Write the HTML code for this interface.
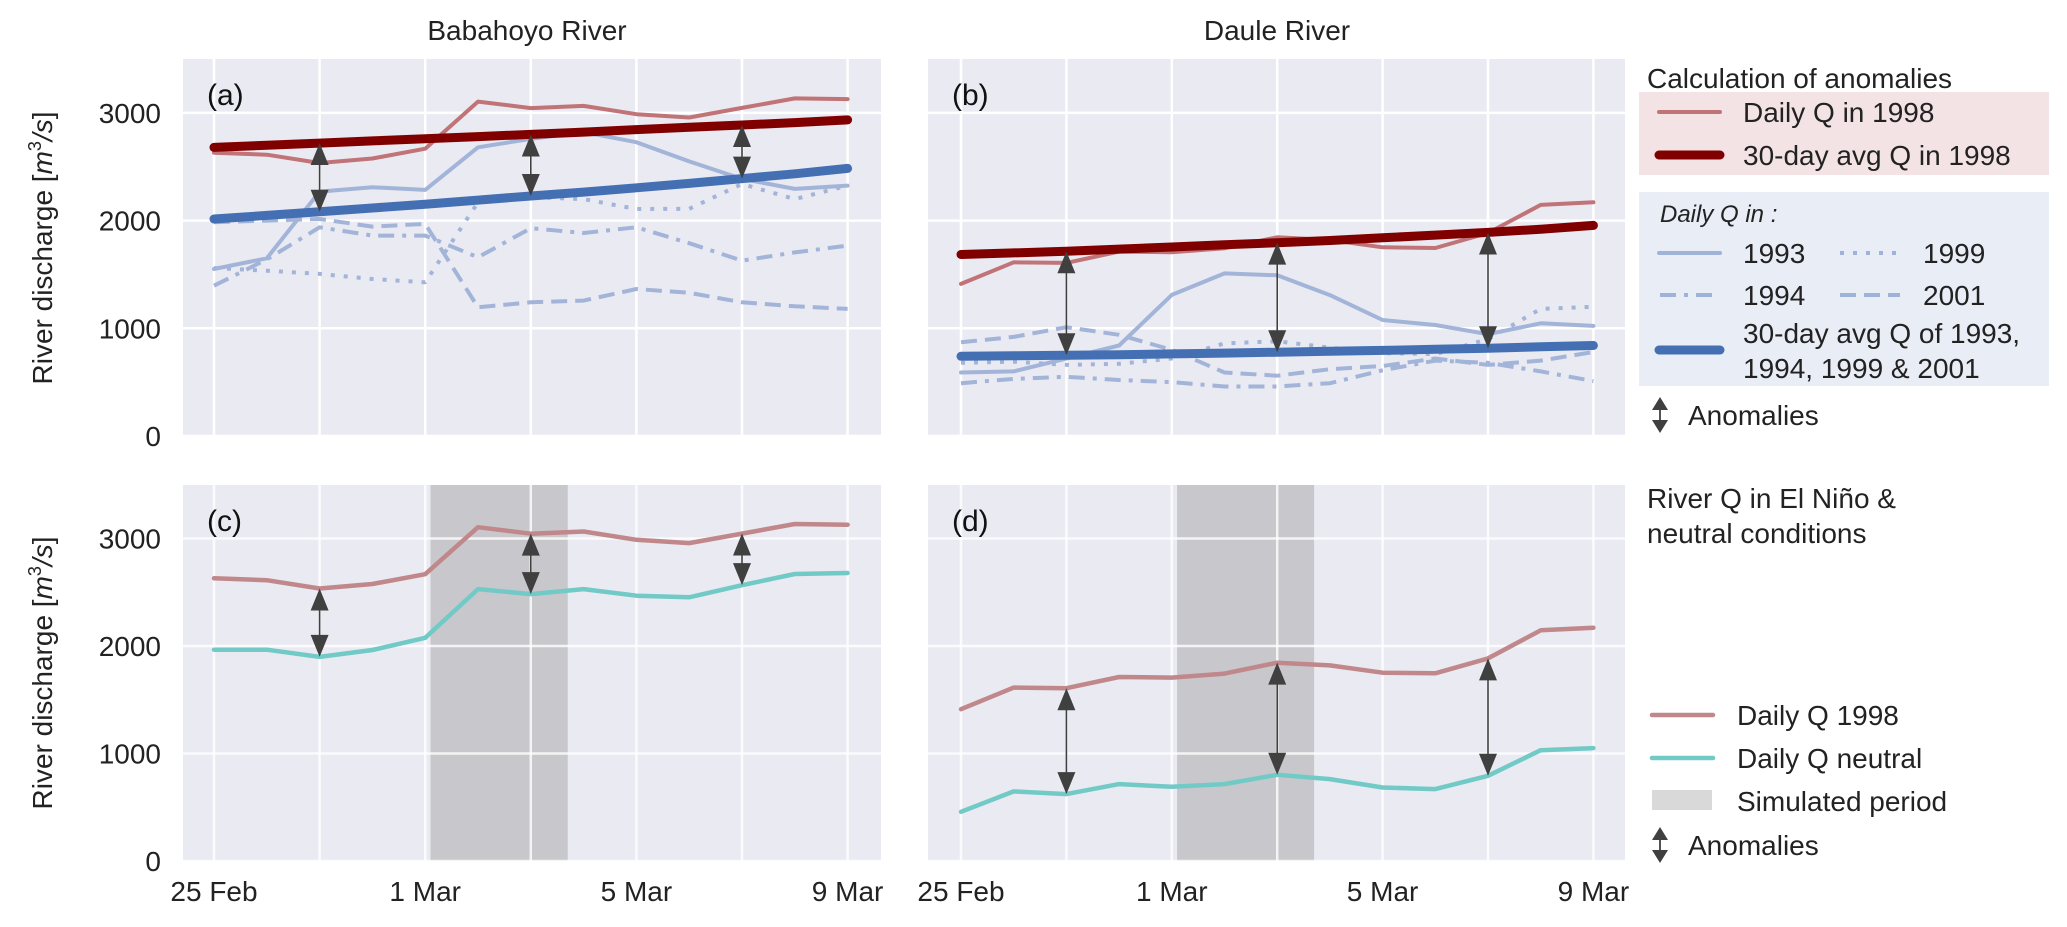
<!DOCTYPE html>
<html><head><meta charset="utf-8"><style>
html,body{margin:0;padding:0;background:#fff}
svg{display:block;font-family:"Liberation Sans",sans-serif}
</style></head><body>
<svg id="c" width="2067" height="927" viewBox="0 0 2067 927" xmlns="http://www.w3.org/2000/svg">
<text x="527" y="40" font-size="28" text-anchor="middle" fill="#222">Babahoyo River</text>
<text x="1277" y="40" font-size="28" text-anchor="middle" fill="#222">Daule River</text>
<text transform="translate(52,248) rotate(-90)" font-size="28" text-anchor="middle" fill="#222">River discharge [<tspan font-style="italic">m</tspan><tspan font-size="18" dy="-11">3</tspan><tspan dy="11" font-style="italic">/s</tspan>]</text>
<text transform="translate(52,673) rotate(-90)" font-size="28" text-anchor="middle" fill="#222">River discharge [<tspan font-style="italic">m</tspan><tspan font-size="18" dy="-11">3</tspan><tspan dy="11" font-style="italic">/s</tspan>]</text>
<g id="panels"></g>
<!-- top legend -->
<g>
<text x="1647" y="88" font-size="28" fill="#222">Calculation of anomalies</text>
<rect x="1639" y="92" width="410" height="83" fill="#f3e3e5"/>
<line x1="1659" y1="112" x2="1720" y2="112" stroke="#c07478" stroke-width="4" stroke-linecap="round"/>
<text x="1743" y="122" font-size="28" fill="#222">Daily Q in 1998</text>
<line x1="1659" y1="155" x2="1720" y2="155" stroke="#800000" stroke-width="9" stroke-linecap="round"/>
<text x="1743" y="165" font-size="28" fill="#222">30-day avg Q in 1998</text>
<rect x="1639" y="192" width="410" height="194" fill="#e9edf5"/>
<text x="1660" y="222" font-size="24" font-style="italic" fill="#222">Daily Q in :</text>
<line x1="1659" y1="253" x2="1720" y2="253" stroke="#9fb2d8" stroke-width="4" stroke-linecap="round"/>
<text x="1743" y="263" font-size="28" fill="#222">1993</text>
<line x1="1840" y1="253" x2="1900" y2="253" stroke="#9fb2d8" stroke-width="4" stroke-dasharray="4,9"/>
<text x="1923" y="263" font-size="28" fill="#222">1999</text>
<line x1="1660" y1="295" x2="1720" y2="295" stroke="#9fb2d8" stroke-width="4" stroke-dasharray="16,8,4,8"/>
<text x="1743" y="305" font-size="28" fill="#222">1994</text>
<line x1="1840" y1="295" x2="1900" y2="295" stroke="#9fb2d8" stroke-width="4" stroke-dasharray="16,8"/>
<text x="1923" y="305" font-size="28" fill="#222">2001</text>
<line x1="1659" y1="350" x2="1720" y2="350" stroke="#4470b3" stroke-width="9" stroke-linecap="round"/>
<text x="1743" y="343" font-size="28" fill="#222">30-day avg Q of 1993,</text>
<text x="1743" y="378" font-size="28" fill="#222">1994, 1999 &amp; 2001</text>
<g><line x1="1660" y1="405" x2="1660" y2="425" stroke="#404040" stroke-width="1.8"/><path d="M1660 397 L1652 410 L1668 410Z M1660 433 L1652 420 L1668 420Z" fill="#404040"/></g>
<text x="1688" y="425" font-size="28" fill="#222">Anomalies</text>
</g>
<!-- bottom legend -->
<g>
<text x="1647" y="508" font-size="28" fill="#222">River Q in El Niño &amp;</text>
<text x="1647" y="543" font-size="28" fill="#222">neutral conditions</text>
<line x1="1652" y1="715" x2="1713" y2="715" stroke="#c0888b" stroke-width="4.5" stroke-linecap="round"/>
<text x="1737" y="725" font-size="28" fill="#222">Daily Q 1998</text>
<line x1="1652" y1="758" x2="1713" y2="758" stroke="#72cac7" stroke-width="4.5" stroke-linecap="round"/>
<text x="1737" y="768" font-size="28" fill="#222">Daily Q neutral</text>
<rect x="1652" y="790" width="60" height="20" fill="#d9d9d9"/>
<text x="1737" y="811" font-size="28" fill="#222">Simulated period</text>
<g><line x1="1660" y1="835" x2="1660" y2="855" stroke="#404040" stroke-width="1.8"/><path d="M1660 827 L1652 840 L1668 840Z M1660 863 L1652 850 L1668 850Z" fill="#404040"/></g>
<text x="1688" y="855" font-size="28" fill="#222">Anomalies</text>
</g>
</svg>
<script>
const days = ["25 Feb","26 Feb","27 Feb","28 Feb","1 Mar","2 Mar","3 Mar","4 Mar","5 Mar","6 Mar","7 Mar","8 Mar","9 Mar"];
const xTickIdx = [0,4,8,12];
const xTickLabels = ["25 Feb","1 Mar","5 Mar","9 Mar"];
const yTicks = [0,1000,2000,3000];
const anomalyDays = [2,6,10];
const simStart = 4.1, simEnd = 6.7;
// Babahoyo
const babDaily1998 = [2630,2612,2535,2577,2668,3105,3045,3065,2988,2957,3046,3135,3128];
const babAvg1998 = [2680,2700,2720,2740,2760,2780,2800,2822,2845,2866,2888,2910,2935];
const babAvgNeutral = [2015,2048,2082,2117,2152,2190,2228,2265,2305,2345,2390,2435,2485];
const bab1993 = [1551,1650,2269,2310,2285,2681,2759,2822,2728,2550,2387,2294,2325];
const bab1994 = [1396,1640,1938,1861,1861,1659,1929,1885,1938,1790,1628,1705,1768];
const bab1999 = [1560,1535,1505,1458,1427,2170,2217,2200,2108,2110,2340,2200,2325];
const bab2001 = [1985,2000,2015,1944,1969,1195,1241,1257,1365,1330,1241,1204,1180];
const babNeutral = [1966,1966,1899,1963,2076,2529,2483,2529,2468,2453,2566,2670,2679];
// Daule
const dauDaily1998 = [1412,1613,1607,1712,1706,1743,1845,1820,1752,1746,1885,2146,2170];
const dauAvg1998 = [1685,1700,1715,1735,1755,1775,1795,1815,1840,1865,1890,1920,1955];
const dauAvgNeutral = [740,745,750,755,762,770,778,786,795,805,815,828,840];
const dau1993 = [590,600,720,840,1310,1510,1492,1308,1077,1031,945,1046,1022];
const dau1994 = [490,530,550,520,500,460,460,490,610,700,680,600,510];
const dau1999 = [680,690,660,670,720,860,880,820,770,760,900,1180,1200];
const dau2001 = [870,920,1010,940,800,590,560,620,650,720,660,700,780];
const dauNeutral = [458,647,622,715,690,715,802,762,684,669,793,1031,1050];

const NS="http://www.w3.org/2000/svg";
const root=document.getElementById('panels');
function mk(tag,attrs,parent){const e=document.createElementNS(NS,tag);for(const k in attrs)e.setAttribute(k,attrs[k]);(parent||root).appendChild(e);return e;}

function panel(cfg){
  const g=mk('g',{});
  
  
  const xs=i=>cfg.x0+i*cfg.dx;
  const ys=v=>cfg.yb-v*cfg.k;
  const bg=mk('rect',{x:cfg.left,y:cfg.top,width:cfg.right-cfg.left,height:cfg.yb-cfg.top,fill:'#eaeaf2'},g);
  
  
  if(cfg.shade){
    const s=mk('rect',{x:xs(simStart),y:cfg.top,width:xs(simEnd)-xs(simStart),height:cfg.yb-cfg.top,fill:'#c8c8cc'},g);
    
    
  }
  yTicks.forEach(v=>{
    const l=mk('line',{x1:cfg.left,x2:cfg.right,y1:ys(v),y2:ys(v),stroke:'#fff','stroke-width':2.5,'stroke-opacity':cfg.shade?0.8:1},g);
    
    
    if(cfg.yLabels){
      const t=mk('text',{x:cfg.left-22,y:ys(v)+10,'font-size':28,'text-anchor':'end',fill:'#222'},g);
      t.textContent=v;
      
      
    }
  });
  for(let i=0;i<days.length;i+=2){
    const l=mk('line',{x1:xs(i),x2:xs(i),y1:cfg.top,y2:cfg.yb,stroke:'#fff','stroke-width':2.5,'stroke-opacity':cfg.shade?0.8:1},g);
    
    
  }
  if(cfg.xLabels){
    xTickIdx.forEach((ix,j)=>{
      const t=mk('text',{x:xs(ix),y:cfg.yb+40,'font-size':28,'text-anchor':'middle',fill:'#222'},g);
      t.textContent=xTickLabels[j];
      
      
    });
  }
  const lab=mk('text',{x:cfg.left+24,y:cfg.top+46,'font-size':30,fill:'#111'},g);
  lab.textContent='('+cfg.id+')';
  
  
  cfg.series.forEach(s=>{
    const d=s.data.map((v,i)=>(i?'L':'M')+xs(i).toFixed(1)+' '+ys(v).toFixed(1)).join(' ');
    const p=mk('path',{d:d,fill:'none',stroke:s.color,'stroke-width':s.w,'stroke-linecap':s.dash?'butt':'round','stroke-linejoin':'round'},g);
    if(s.dash)p.setAttribute('stroke-dasharray',s.dash);
    
    
  });
  anomalyDays.forEach(i=>{
    const x=xs(i),y1=ys(cfg.arrowTop[i]),y2=ys(cfg.arrowBot[i]);
    const a=mk('g',{},g);
    
    
    mk('line',{x1:x,x2:x,y1:y1+20,y2:y2-20,stroke:'#404040','stroke-width':1.6},a);
    mk('path',{d:`M${x} ${y1} L${x-9} ${y1+22} L${x+9} ${y1+22}Z M${x} ${y2} L${x-9} ${y2-22} L${x+9} ${y2-22}Z`,fill:'#404040'},a);
  });
}
const lb='#a3b4d9';
panel({id:'a',left:183,right:881,top:59,yb:436,x0:214,dx:52.8,k:0.1077,yLabels:true,xLabels:false,
 series:[
  {name:'line-1994',data:bab1994,color:lb,w:4,dash:'16,8,4,8'},
  {name:'line-2001',data:bab2001,color:lb,w:4,dash:'16,8'},
  {name:'line-1999',data:bab1999,color:lb,w:4,dash:'4,9'},
  {name:'line-1993',data:bab1993,color:lb,w:4},
  {name:'line-daily-1998',data:babDaily1998,color:'#c07478',w:4},
  {name:'line-avg-neutral',data:babAvgNeutral,color:'#4470b3',w:9},
  {name:'line-avg-1998',data:babAvg1998,color:'#800000',w:9}],
 arrowTop:babAvg1998,arrowBot:babAvgNeutral});
panel({id:'b',left:928,right:1625,top:59,yb:436,x0:961,dx:52.7,k:0.1077,yLabels:false,xLabels:false,
 series:[
  {name:'line-1994',data:dau1994,color:lb,w:4,dash:'16,8,4,8'},
  {name:'line-2001',data:dau2001,color:lb,w:4,dash:'16,8'},
  {name:'line-1999',data:dau1999,color:lb,w:4,dash:'4,9'},
  {name:'line-1993',data:dau1993,color:lb,w:4},
  {name:'line-daily-1998',data:dauDaily1998,color:'#c07478',w:4},
  {name:'line-avg-neutral',data:dauAvgNeutral,color:'#4470b3',w:9},
  {name:'line-avg-1998',data:dauAvg1998,color:'#800000',w:9}],
 arrowTop:dauAvg1998,arrowBot:dauAvgNeutral});
panel({id:'c',left:183,right:881,top:485,yb:861,x0:214,dx:52.8,k:0.1075,yLabels:true,xLabels:true,shade:true,
 series:[
  {name:'line-daily-1998',data:babDaily1998,color:'#c0888b',w:4.5},
  {name:'line-daily-neutral',data:babNeutral,color:'#72cac7',w:4.5}],
 arrowTop:babDaily1998,arrowBot:babNeutral});
panel({id:'d',left:928,right:1625,top:485,yb:861,x0:961,dx:52.7,k:0.1075,yLabels:false,xLabels:true,shade:true,
 series:[
  {name:'line-daily-1998',data:dauDaily1998,color:'#c0888b',w:4.5},
  {name:'line-daily-neutral',data:dauNeutral,color:'#72cac7',w:4.5}],
 arrowTop:dauDaily1998,arrowBot:dauNeutral});
</script>
</body></html>
